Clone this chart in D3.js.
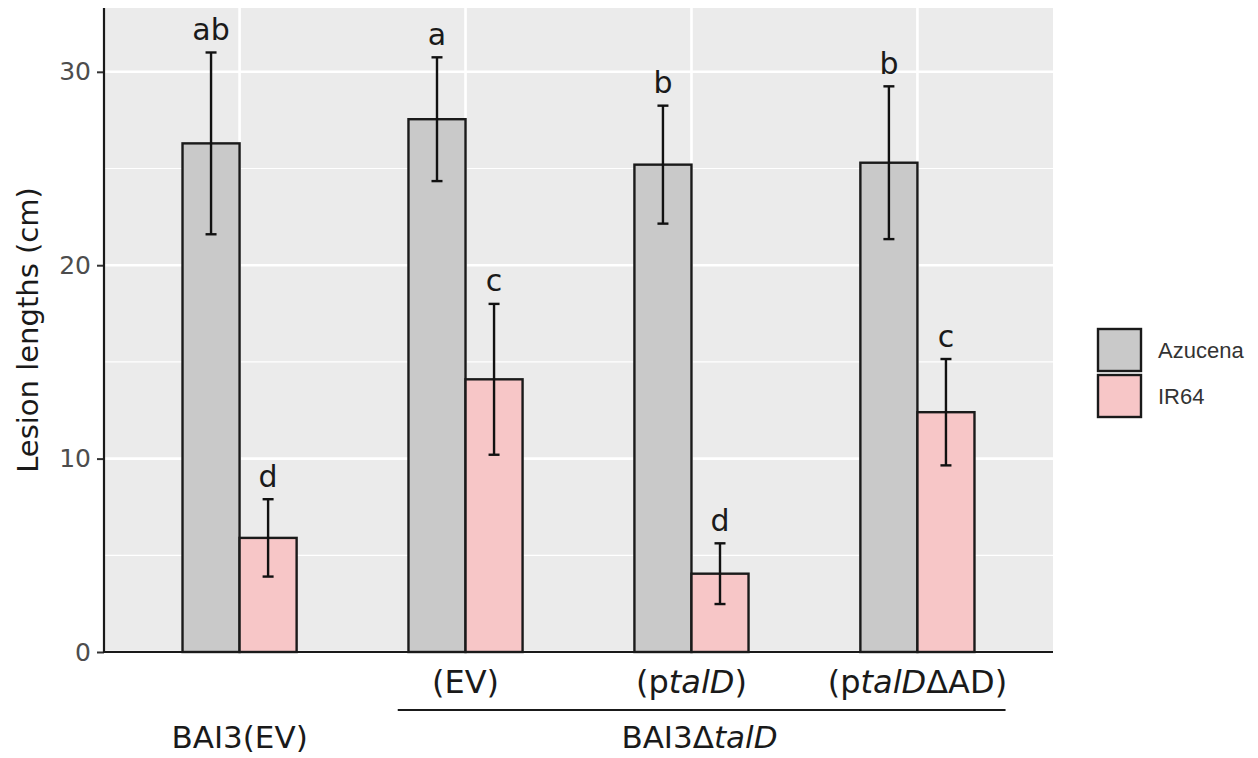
<!DOCTYPE html>
<html>
<head>
<meta charset="utf-8">
<script src="https://cdn.jsdelivr.net/npm/d3@7"></script>
<style>
  html, body { margin: 0; padding: 0; background: #ffffff; }
  svg { display: block; }
</style>
</head>
<body>
<svg id="chart" width="1258" height="758"></svg>
<script>
// ---- data ----
const groups = ["BAI3(EV)", "(EV)", "(ptalD)", "(ptalDΔAD)"];
const series = ["Azucena", "IR64"];
const azucenaMean = [26.3, 27.55, 25.2, 25.3];
const azucenaSD   = [4.7, 3.2, 3.05, 3.95];
const ir64Mean    = [5.9, 14.1, 4.05, 12.4];
const ir64SD      = [2.0, 3.9, 1.57, 2.75];
const azucenaLetters = ["ab", "a", "b", "b"];
const ir64Letters    = ["d", "c", "d", "c"];
const yTicks = [0, 10, 20, 30];
const yMinorTicks = [5, 15, 25];
// tick label segments: [text, italic?]
const xTickLabels = [
  [],
  [["(EV)", false]],
  [["(p", false], ["talD", true], [")", false]],
  [["(p", false], ["talD", true], ["ΔAD)", false]]
];
const groupLabelLeft = [["BAI3(EV)", false]];
const groupLabelRight = [["BAI3Δ", false], ["talD", true]];
const colors = { Azucena: "#c9c9c9", IR64: "#f7c6c7" };

// ---- layout ----
const panel = { left: 104, right: 1053, top: 8, bottom: 652 };
const svg = d3.select("#chart");
const font = "'DejaVu Sans', sans-serif";

const x = d3.scalePoint().domain(groups).range([panel.left, panel.right]).padding(0.6);
const step = x.step();
const bw = 0.505 * step;
const xs = d3.scaleBand().domain(series).range([-bw / 2, bw / 2]).padding(0);
const y = d3.scaleLinear().domain([0, 33.3]).range([panel.bottom, panel.top]);

const rows = [];
groups.forEach((g, i) => {
  rows.push({ g, s: "Azucena", m: azucenaMean[i], sd: azucenaSD[i], lab: azucenaLetters[i] });
  rows.push({ g, s: "IR64", m: ir64Mean[i], sd: ir64SD[i], lab: ir64Letters[i] });
});

// panel background
svg.append("rect").attr("x", panel.left).attr("y", panel.top)
  .attr("width", panel.right - panel.left).attr("height", panel.bottom - panel.top)
  .attr("fill", "#ebebeb");

// grid
svg.append("g").selectAll("line").data(yMinorTicks).join("line")
  .attr("x1", panel.left).attr("x2", panel.right)
  .attr("y1", d => y(d)).attr("y2", d => y(d))
  .attr("stroke", "#ffffff").attr("stroke-width", 1.2);
svg.append("g").selectAll("line").data(yTicks).join("line")
  .attr("x1", panel.left).attr("x2", panel.right)
  .attr("y1", d => y(d)).attr("y2", d => y(d))
  .attr("stroke", "#ffffff").attr("stroke-width", 2.6);
svg.append("g").selectAll("line").data(groups).join("line")
  .attr("x1", d => x(d)).attr("x2", d => x(d))
  .attr("y1", panel.top).attr("y2", panel.bottom)
  .attr("stroke", "#ffffff").attr("stroke-width", 2.6);

// bars
svg.append("g").selectAll("rect").data(rows).join("rect")
  .attr("x", d => x(d.g) + xs(d.s))
  .attr("y", d => y(d.m))
  .attr("width", xs.bandwidth())
  .attr("height", d => y(0) - y(d.m))
  .attr("fill", d => colors[d.s])
  .attr("stroke", "#1a1a1a").attr("stroke-width", 2.4);

// error bars
const eb = svg.append("g").attr("stroke", "#111").attr("stroke-width", 2.4);
rows.forEach(d => {
  const cx = x(d.g) + xs(d.s) + xs.bandwidth() / 2;
  const capHalf = 5.5;
  eb.append("line").attr("x1", cx).attr("x2", cx).attr("y1", y(d.m + d.sd)).attr("y2", y(d.m - d.sd));
  eb.append("line").attr("x1", cx - capHalf).attr("x2", cx + capHalf).attr("y1", y(d.m + d.sd)).attr("y2", y(d.m + d.sd));
  eb.append("line").attr("x1", cx - capHalf).attr("x2", cx + capHalf).attr("y1", y(d.m - d.sd)).attr("y2", y(d.m - d.sd));
});

// significance letters
svg.append("g").selectAll("text").data(rows).join("text")
  .attr("x", d => x(d.g) + xs(d.s) + xs.bandwidth() / 2)
  .attr("y", d => y(d.m + d.sd) - 12.5)
  .attr("text-anchor", "middle")
  .attr("font-family", font).attr("font-size", 30).attr("fill", "#1a1a1a")
  .text(d => d.lab);

// axes
const yAxis = d3.axisLeft(y).tickValues(yTicks).tickSize(7).tickPadding(6).tickFormat(d3.format("d"));
const ya = svg.append("g").attr("transform", `translate(${panel.left},0)`).call(yAxis);
ya.select(".domain").remove();
ya.selectAll(".tick line").attr("stroke", "#333").attr("stroke-width", 2);
ya.selectAll(".tick text").attr("font-family", font).attr("font-size", 25).attr("fill", "#4d4d4d");

svg.append("line").attr("x1", panel.left).attr("x2", panel.left)
  .attr("y1", panel.top).attr("y2", panel.bottom + 1)
  .attr("stroke", "#1a1a1a").attr("stroke-width", 2.2);
svg.append("line").attr("x1", panel.left - 1).attr("x2", panel.right)
  .attr("y1", panel.bottom).attr("y2", panel.bottom)
  .attr("stroke", "#1a1a1a").attr("stroke-width", 2.2);

// y title
svg.append("text")
  .attr("transform", `translate(38,${(panel.top + panel.bottom) / 2}) rotate(-90)`)
  .attr("text-anchor", "middle")
  .attr("font-family", font).attr("font-size", 29).attr("fill", "#1a1a1a")
  .text("Lesion lengths (cm)");

function segText(parent, segs, cx, cy, size, fill) {
  const t = parent.append("text").attr("x", cx).attr("y", cy)
    .attr("text-anchor", "middle").attr("font-family", font)
    .attr("font-size", size).attr("fill", fill);
  segs.forEach(s => t.append("tspan").attr("font-style", s[1] ? "italic" : "normal").text(s[0]));
  return t;
}

// x tick labels
groups.forEach((g, i) => {
  if (xTickLabels[i].length) segText(svg, xTickLabels[i], x(g), 693, 32, "#1a1a1a");
});
// group labels
segText(svg, groupLabelLeft, x(groups[0]), 748, 31, "#1a1a1a");
const lineX1 = x(groups[1]) - step * 0.3;
const lineX2 = x(groups[3]) + step * 0.39;
svg.append("line").attr("x1", lineX1).attr("x2", lineX2).attr("y1", 710).attr("y2", 710)
  .attr("stroke", "#1a1a1a").attr("stroke-width", 2);
segText(svg, groupLabelRight, (x(groups[1]) + x(groups[3])) / 2 + 8, 748, 31, "#1a1a1a");

// legend
const leg = svg.append("g").attr("transform", "translate(1098,329)");
series.forEach((s, i) => {
  leg.append("rect").attr("x", 0).attr("y", i * 46).attr("width", 43).attr("height", 42)
    .attr("fill", colors[s]).attr("stroke", "#1a1a1a").attr("stroke-width", 2.4);
  leg.append("text").attr("x", 60).attr("y", i * 46 + 21).attr("dy", "0.35em")
    .attr("font-family", "'Liberation Sans', Arial, sans-serif").attr("font-size", 22)
    .attr("fill", "#333").text(s);
});
</script>
</body>
</html>
